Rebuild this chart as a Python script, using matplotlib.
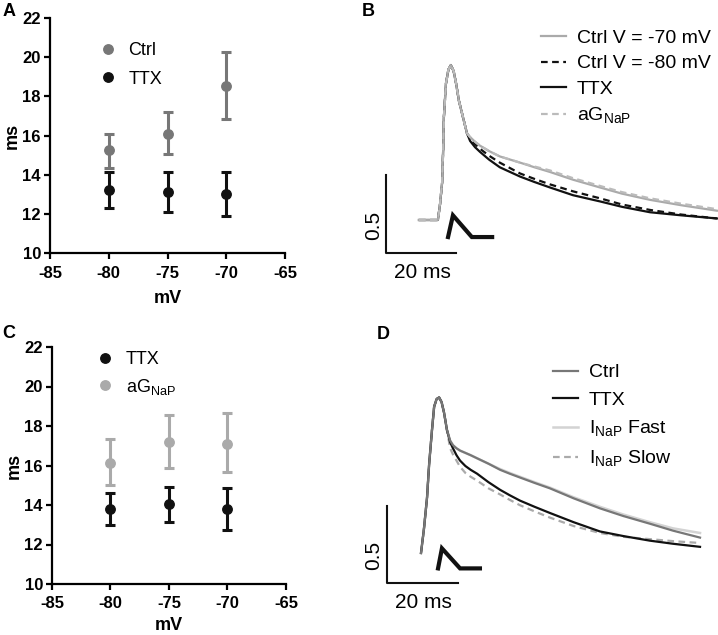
import matplotlib.pyplot as plt
import numpy as np

plt.rcParams['font.family'] = ['Liberation Sans', 'DejaVu Sans']
plt.rcParams['mathtext.fontset'] = 'custom'
plt.rcParams['mathtext.rm'] = 'Liberation Sans'
plt.rcParams['mathtext.bf'] = 'Liberation Sans:bold'
plt.rcParams['axes.unicode_minus'] = False

W, H = 718, 635

# ---- panel A / C data (mean, low, high of error bars) ----
volts = [-80, -75, -70]
a_ctrl = [15.25, 16.1, 18.55]
a_ctrl_lo = [14.35, 15.05, 16.85]
a_ctrl_hi = [16.1, 17.2, 20.25]
a_ttx = [13.2, 13.1, 13.0]
a_ttx_lo = [12.3, 12.1, 11.9]
a_ttx_hi = [14.15, 14.15, 14.15]

c_ttx = [13.8, 14.05, 13.8]
c_ttx_lo = [13.0, 13.15, 12.75]
c_ttx_hi = [14.6, 14.9, 14.85]
c_agnap = [16.15, 17.2, 17.1]
c_agnap_lo = [15.0, 15.85, 15.65]
c_agnap_hi = [17.35, 18.55, 18.65]

x_ticks = [-85, -80, -75, -70, -65]
y_ticks = [10, 12, 14, 16, 18, 20, 22]

# ---- panel B traces (ms, normalised) ----
b_rise_t = [0, 5.4, 6.0, 6.6, 6.9, 7.1, 7.7, 8.4, 9.1, 9.9, 10.6, 11.4, 12.6, 13.7]
b_rise_v = [0, 0, 0.10, 0.24, 0.45, 0.66, 0.88, 0.97, 1.0, 0.96, 0.88, 0.77, 0.66, 0.56]
b_decay_t = [14.6, 16, 17.4, 20, 23.1, 26, 28.9, 33, 37.4, 44, 51.7, 58, 66, 75, 85.1]
b_ctrl70 = [0.535, 0.505, 0.48, 0.445, 0.41, 0.39, 0.37, 0.34, 0.31, 0.26, 0.21, 0.17, 0.13, 0.095, 0.06]
b_ctrl80 = [0.525, 0.49, 0.46, 0.415, 0.37, 0.335, 0.30, 0.265, 0.23, 0.185, 0.14, 0.10, 0.065, 0.035, 0.01]
b_ttx = [0.51, 0.47, 0.44, 0.39, 0.34, 0.31, 0.28, 0.245, 0.21, 0.16, 0.12, 0.085, 0.05, 0.03, 0.01]
b_agnap = [0.535, 0.505, 0.48, 0.445, 0.41, 0.39, 0.37, 0.345, 0.32, 0.27, 0.22, 0.18, 0.14, 0.105, 0.07]
b_stim_t = [8.3, 9.7, 15.1, 20.9]
b_stim_v = [-0.11, 0.03, -0.11, -0.11]

# ---- panel D traces ----
d_rise_t = [0, 0.8, 1.7, 2.3, 3.1, 3.7, 4.4, 5.1, 5.8, 6.5, 7.3]
d_rise_v = [0, 0.15, 0.36, 0.58, 0.80, 0.95, 1.0, 1.01, 0.98, 0.91, 0.80]
d_decay_t = [8.2, 9.0, 10, 11, 12.5, 14, 15.8, 19, 22.3, 25, 27.9, 32, 36.3, 43, 50.4, 57, 64.5, 71, 78.6]
d_ctrl = [0.73, 0.70, 0.68, 0.665, 0.65, 0.635, 0.615, 0.58, 0.54, 0.515, 0.49, 0.455, 0.42, 0.355, 0.29,
          0.24, 0.19, 0.145, 0.10]
d_fast = [0.73, 0.70, 0.68, 0.665, 0.65, 0.635, 0.615, 0.58, 0.545, 0.52, 0.495, 0.46, 0.425, 0.362, 0.30,
          0.25, 0.20, 0.16, 0.13]
d_ttx = [0.72, 0.68, 0.635, 0.60, 0.565, 0.54, 0.515, 0.46, 0.41, 0.375, 0.34, 0.30, 0.26, 0.20, 0.14,
         0.11, 0.08, 0.06, 0.04]
d_slow = [0.68, 0.64, 0.60, 0.56, 0.52, 0.495, 0.47, 0.42, 0.38, 0.345, 0.31, 0.27, 0.23, 0.175, 0.13,
          0.105, 0.09, 0.077, 0.065]
d_stim_t = [4.8, 5.9, 11.0, 16.6]
d_stim_v = [-0.10, 0.03, -0.10, -0.10]


def rect(x0, y0, x1, y1):
    return [x0 / W, 1 - y1 / H, (x1 - x0) / W, (y1 - y0) / H]


def ftext(x, y, s, **kw):
    fig.text(x / W, 1 - y / H, s, **kw)


def errs(m, lo, hi):
    return [np.array(m) - np.array(lo), np.array(hi) - np.array(m)]


fig = plt.figure(figsize=(W / 100, H / 100), dpi=100)


def scatter_panel(pos, series, xpad):
    ax = fig.add_axes(pos)
    for m, lo, hi, col, lab in series:
        ax.errorbar(volts, m, yerr=errs(m, lo, hi), fmt='o', color=col, ecolor=col,
                    markersize=6.8, elinewidth=2.2, capsize=3.6, capthick=2.2, label=lab)
    ax.set_xlim(-85, -65)
    ax.set_ylim(10, 22)
    ax.set_xticks(x_ticks)
    ax.set_yticks(y_ticks)
    for s in ['top', 'right']:
        ax.spines[s].set_visible(False)
    for s in ['left', 'bottom']:
        ax.spines[s].set_linewidth(1.6)
    ax.tick_params(width=1.6, length=4, labelsize=12)
    ax.tick_params(axis='x', pad=5)
    ax.tick_params(axis='y', pad=2.5)
    for lbl in ax.get_xticklabels() + ax.get_yticklabels():
        lbl.set_fontweight('bold')
    ax.set_xlabel('mV', fontsize=13, fontweight='bold', labelpad=xpad)
    ax.set_ylabel('ms', fontsize=13, fontweight='bold', labelpad=1)
    handles, labels = ax.get_legend_handles_labels()
    handles = [h[0] for h in handles]
    return ax, handles, labels


axA, hA, lA = scatter_panel(rect(50, 18, 285, 253),
                            [(a_ctrl, a_ctrl_lo, a_ctrl_hi, '#777777', 'Ctrl'),
                             (a_ttx, a_ttx_lo, a_ttx_hi, '#111111', 'TTX')], 7)
axA.legend(hA, lA, loc='upper left', bbox_to_anchor=(0.13, 0.965), frameon=False,
           fontsize=13, handletextpad=0.55, labelspacing=0.62, handlelength=1.2)

axC, hC, lC = scatter_panel(rect(52, 347, 286, 584),
                            [(c_ttx, c_ttx_lo, c_ttx_hi, '#111111', 'TTX'),
                             (c_agnap, c_agnap_lo, c_agnap_hi, '#aaaaaa', r'aG$_{\mathrm{NaP}}$')], 4)
axC.legend(hC, lC, loc='upper left', bbox_to_anchor=(0.11, 1.05), frameon=False,
           fontsize=13, handletextpad=0.55, labelspacing=0.45, handlelength=1.2)

# ---- panel B ----
axB = fig.add_axes(rect(375, 20, 718, 290))
axB.set_xlim((375 - 419) / 3.5, (718 - 419) / 3.5)
axB.set_ylim((220 - 290) / 155, (220 - 20) / 155)
axB.axis('off')
bt = b_rise_t + b_decay_t
axB.plot(bt, b_rise_v + b_ttx, color='#111111', lw=1.6, label='TTX')
axB.plot(bt, b_rise_v + b_ctrl80, color='#111111', lw=1.6, ls=(0, (3, 2)), label='Ctrl V = -80 mV')
axB.plot(bt, b_rise_v + b_ctrl70, color='#aaaaaa', lw=1.6, label='Ctrl V = -70 mV')
axB.plot(bt, b_rise_v + b_agnap, color='#bbbbbb', lw=1.6, ls=(0, (3, 2)), label=r'aG$_{\mathrm{NaP}}$')
axB.plot(b_stim_t, b_stim_v, color='#111111', lw=3, solid_joinstyle='miter')
axB.plot([-9.4, -9.4, 10.6], [0.29, -0.21, -0.21], color='#111111', lw=1.5)
hB, lB = axB.get_legend_handles_labels()
order = [2, 1, 0, 3]
axB.legend([hB[i] for i in order], [lB[i] for i in order], loc='upper left',
           bbox_to_anchor=(0.432, 1.03), frameon=False, fontsize=14,
           handlelength=1.3, handletextpad=0.55, labelspacing=0.4)
ftext(422, 273, '20 ms', fontsize=15, ha='center', va='center')
ftext(374, 225, '0.5', fontsize=15, ha='center', va='center', rotation=90)

# ---- panel D ----
axD = fig.add_axes(rect(375, 345, 718, 620))
axD.set_xlim((375 - 421) / 3.55, (718 - 421) / 3.55)
axD.set_ylim((553 - 620) / 154, (553 - 345) / 154)
axD.axis('off')
dt = d_rise_t + d_decay_t
axD.plot(dt, d_rise_v + d_fast, color='#d3d3d3', lw=1.8, label=r'I$_{\mathrm{NaP}}$ Fast')
axD.plot(dt, d_rise_v + d_slow, color='#aaaaaa', lw=1.6, ls=(0, (3, 2)), label=r'I$_{\mathrm{NaP}}$ Slow')
axD.plot(dt, d_rise_v + d_ttx, color='#111111', lw=1.6, label='TTX')
axD.plot(dt, d_rise_v + d_ctrl, color='#777777', lw=1.6, label='Ctrl')
axD.plot(d_stim_t, d_stim_v, color='#111111', lw=3, solid_joinstyle='miter')
axD.plot([-9.6, -9.6, 10.4], [0.305, -0.195, -0.195], color='#111111', lw=1.5)
hD, lD = axD.get_legend_handles_labels()
order = [3, 2, 0, 1]
axD.legend([hD[i] for i in order], [lD[i] for i in order], loc='upper left',
           bbox_to_anchor=(0.468, 0.995), frameon=False, fontsize=14,
           handlelength=1.3, handletextpad=0.55, labelspacing=0.5)
ftext(423, 603, '20 ms', fontsize=15, ha='center', va='center')
ftext(374, 555, '0.5', fontsize=15, ha='center', va='center', rotation=90)

# panel letters
for x, y, s in [(9, 12, 'A'), (368, 12, 'B'), (9, 334, 'C'), (383, 335, 'D')]:
    ftext(x, y, s, fontsize=13, fontweight='bold', ha='center', va='center')

fig.savefig('out.png', dpi=100)
